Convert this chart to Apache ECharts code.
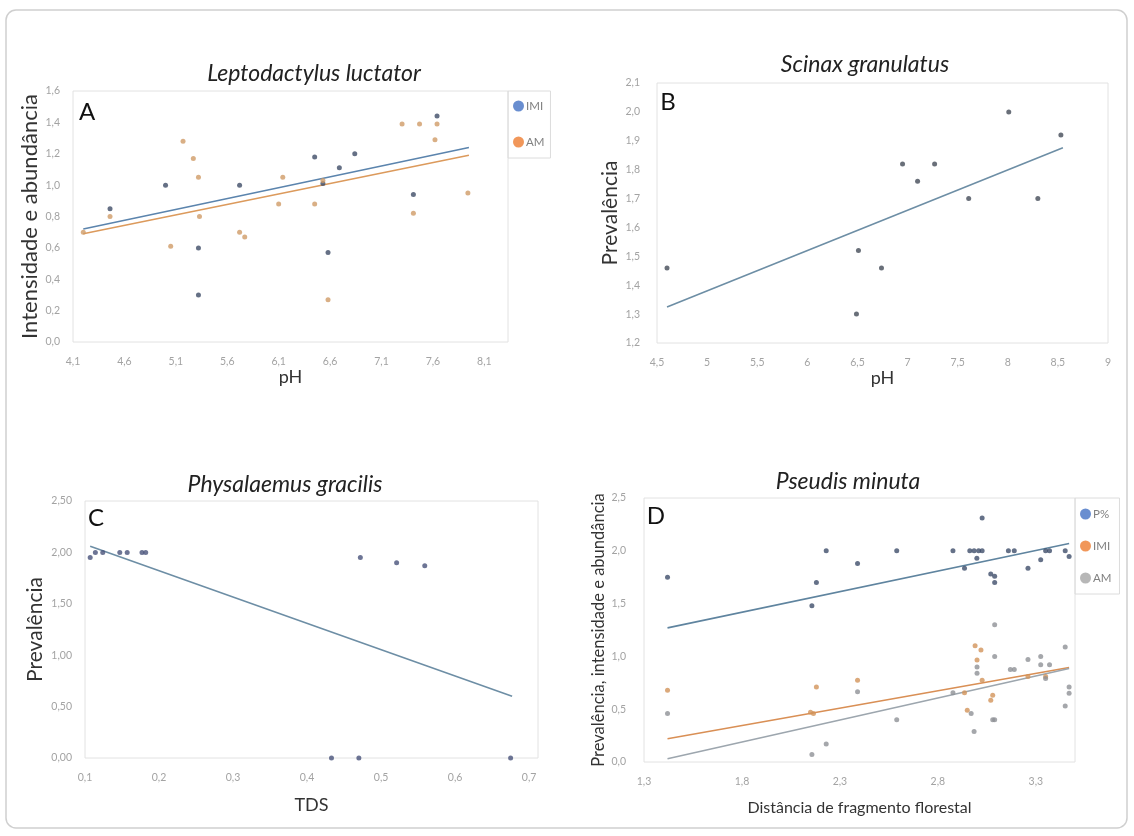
<!DOCTYPE html>
<html>
<head>
<meta charset="utf-8">
<title>Prevalência e pH</title>
<script src="https://cdn.jsdelivr.net/npm/echarts@6/dist/echarts.min.js"></script>
<style>
  html, body { margin: 0; padding: 0; background: #fff; }
  #chart { width: 1134px; height: 836px; }
</style>
</head>
<body>
<div id="chart"></div>
<script>
// A - Leptodactylus luctator (pH)
var phA_imi = [4.46, 5.0, 5.32, 5.32, 5.72, 6.45, 6.53, 6.58, 6.69, 6.84, 7.41, 7.64];
var imiA    = [0.85, 1.0, 0.60, 0.30, 1.0, 1.18, 1.01, 0.57, 1.11, 1.20, 0.94, 1.44];
var phA_am  = [4.2, 4.46, 5.05, 5.17, 5.27, 5.32, 5.33, 5.72, 5.77, 6.10, 6.14, 6.45, 6.53, 6.58, 7.30, 7.41, 7.47, 7.62, 7.64, 7.94];
var amA     = [0.70, 0.80, 0.61, 1.28, 1.17, 1.05, 0.80, 0.70, 0.67, 0.88, 1.05, 0.88, 1.03, 0.27, 1.39, 0.82, 1.39, 1.29, 1.39, 0.95];
var trendA_imi = [[4.2, 0.72], [7.95, 1.24]];
var trendA_am  = [[4.2, 0.69], [7.95, 1.19]];

// B - Scinax granulatus (pH)
var phB   = [4.6, 6.49, 6.51, 6.74, 6.95, 7.1, 7.27, 7.61, 8.01, 8.3, 8.53];
var prevB = [1.46, 1.30, 1.52, 1.46, 1.82, 1.76, 1.82, 1.70, 2.0, 1.70, 1.92];
var trendB = [[4.6, 1.325], [8.55, 1.876]];

// C - Physalaemus gracilis (TDS)
var tdsC  = [0.107, 0.114, 0.124, 0.147, 0.157, 0.177, 0.182, 0.433, 0.47, 0.472, 0.521, 0.559, 0.675];
var prevC = [1.95, 2.0, 2.0, 2.0, 2.0, 2.0, 2.0, 0, 0, 1.95, 1.90, 1.87, 0];
var trendC = [[0.107, 2.06], [0.677, 0.60]];

// D - Pseudis minuta (distancia)
var distD_p = [1.42, 2.157, 2.18, 2.23, 2.39, 2.59, 2.877, 2.936, 2.963, 2.985, 2.999, 3.008, 3.026, 3.026, 3.07, 3.09, 3.09, 3.16, 3.19, 3.26, 3.325, 3.35, 3.37, 3.45, 3.47];
var pD      = [1.75, 1.48, 1.70, 2.0, 1.88, 2.0, 2.0, 1.835, 2.0, 2.0, 1.93, 2.0, 2.0, 2.31, 1.78, 1.76, 1.70, 2.0, 2.0, 1.835, 1.915, 2.0, 2.0, 2.0, 1.945];
var distD_imi = [1.42, 2.15, 2.165, 2.18, 2.39, 2.936, 2.95, 2.99, 3.0, 3.02, 3.026, 3.07, 3.08, 3.26, 3.35];
var imiD      = [0.68, 0.47, 0.46, 0.71, 0.775, 0.655, 0.49, 1.10, 0.965, 1.06, 0.775, 0.585, 0.633, 0.81, 0.81];
var distD_am = [1.42, 2.157, 2.23, 2.39, 2.59, 2.877, 2.97, 2.985, 3.0, 3.0, 3.08, 3.09, 3.09, 3.09, 3.17, 3.19, 3.26, 3.325, 3.325, 3.35, 3.37, 3.45, 3.45, 3.47, 3.47];
var amD      = [0.46, 0.07, 0.17, 0.665, 0.40, 0.655, 0.46, 0.29, 0.90, 0.84, 0.40, 0.40, 1.30, 1.0, 0.877, 0.877, 0.97, 1.0, 0.92, 0.79, 0.92, 1.09, 0.53, 0.71, 0.65];
var trendD_p   = [[1.42, 1.27], [3.47, 2.07]];
var trendD_imi = [[1.42, 0.22], [3.47, 0.895]];
var trendD_am  = [[1.42, 0.03], [3.47, 0.886]];

var FONT = 'Lato, "Open Sans", sans-serif';
var BLUE = '#4472C4', ORANGE = '#ED7D31', GRAY = '#A5A5A5';

function pairs(xs, ys) {
    return xs.map(function (x, i) { return [x, ys[i]]; });
}
function fmt(d) {
    return function (v) { return v.toFixed(d).replace('.', ','); };
}
function fmtShort(v) {
    return String(Math.round(v * 10) / 10).replace('.', ',');
}

function xAx(idx, min, max, step, formatter, showMax, name, gap, nameSize) {
    return {
        type: 'value', gridIndex: idx, min: min, max: max, interval: step,
        axisLine: { show: false }, axisTick: { show: false }, splitLine: { show: false },
        axisLabel: { color: '#a3a3a3', fontSize: 10.5, fontFamily: FONT, margin: 14,
                     formatter: formatter, showMaxLabel: showMax },
        name: name, nameLocation: 'middle', nameGap: gap,
        nameTextStyle: { color: '#333', fontSize: nameSize, fontFamily: FONT }
    };
}
function yAx(idx, min, max, step, formatter, name, gap, nameSize, margin) {
    return {
        type: 'value', gridIndex: idx, min: min, max: max, interval: step,
        axisLine: { show: false }, axisTick: { show: false }, splitLine: { show: false },
        axisLabel: { color: '#a3a3a3', fontSize: 10.5, fontFamily: FONT, margin: margin, formatter: formatter },
        name: name, nameLocation: 'middle', nameGap: gap,
        nameTextStyle: { color: '#333', fontSize: nameSize, fontFamily: FONT }
    };
}
function dots(name, idx, data, color) {
    return {
        name: name, type: 'scatter', xAxisIndex: idx, yAxisIndex: idx,
        data: data, symbolSize: 5, itemStyle: { color: color }, z: 3
    };
}
function trend(idx, data, color) {
    return {
        type: 'line', xAxisIndex: idx, yAxisIndex: idx, data: data,
        symbol: 'none', silent: true, lineStyle: { color: color, width: 1.6 }, z: 2
    };
}
function letter(t, x, y) {
    return { type: 'text', x: x, y: y,
             style: { text: t, font: '24px ' + FONT, fill: '#111', align: 'center', verticalAlign: 'middle' } };
}

var chart = echarts.init(document.getElementById('chart'));
var option = {
    animation: false,
    title: [
        { text: 'Leptodactylus luctator', left: 314, top: 74, textAlign: 'center', textVerticalAlign: 'middle' },
        { text: 'Scinax granulatus', left: 865, top: 65, textAlign: 'center', textVerticalAlign: 'middle' },
        { text: 'Physalaemus gracilis', left: 285, top: 485, textAlign: 'center', textVerticalAlign: 'middle' },
        { text: 'Pseudis minuta', left: 848, top: 482, textAlign: 'center', textVerticalAlign: 'middle' }
    ].map(function (t) {
        t.padding = 0;
        t.textStyle = { fontSize: 23, fontStyle: 'italic', fontWeight: 'normal', color: '#222', fontFamily: FONT };
        return t;
    }),
    legend: [
        { orient: 'vertical', left: 508, top: 91, padding: [9, 6, 10, 5], itemGap: 24,
          itemWidth: 11, itemHeight: 11, icon: 'circle', borderColor: '#dcdcdc', borderWidth: 1,
          textStyle: { color: '#808080', fontSize: 11.5, fontFamily: FONT, padding: [0, 0, 0, -3] },
          data: [{ name: 'IMI', itemStyle: { color: BLUE } }, { name: 'AM', itemStyle: { color: ORANGE } }] },
        { orient: 'vertical', left: 1075, top: 498, padding: [10, 8, 10, 5], itemGap: 20,
          itemWidth: 11, itemHeight: 11, icon: 'circle', borderColor: '#dcdcdc', borderWidth: 1,
          textStyle: { color: '#808080', fontSize: 11.5, fontFamily: FONT, padding: [0, 0, 0, -3] },
          formatter: function (n) { return n.replace(' (D)', ''); },
          data: [{ name: 'P%', itemStyle: { color: BLUE } },
                 { name: 'IMI (D)', itemStyle: { color: ORANGE } },
                 { name: 'AM (D)', itemStyle: { color: GRAY } }] }
    ],
    grid: [
        { left: 73, top: 91, width: 435, height: 251, show: true, borderColor: '#e2e2e2', borderWidth: 1 },
        { left: 657, top: 83, width: 451, height: 260, show: true, borderColor: '#e2e2e2', borderWidth: 1 },
        { left: 85, top: 501, width: 453, height: 257, show: true, borderColor: '#e2e2e2', borderWidth: 1 },
        { left: 644, top: 498, width: 431, height: 264, show: true, borderColor: '#e2e2e2', borderWidth: 1 }
    ],
    xAxis: [
        xAx(0, 4.1, 8.33, 0.5, fmt(1), false, 'pH', 26, 18),
        xAx(1, 4.5, 9, 0.5, fmtShort, true, 'pH', 26, 18),
        xAx(2, 0.1, 0.712, 0.1, fmt(1), false, 'TDS', 38, 18),
        xAx(3, 1.3, 3.5, 0.5, fmt(1), false, 'Distância de fragmento florestal', 38, 16)
    ],
    yAxis: [
        yAx(0, 0, 1.6, 0.2, fmt(1), 'Intensidade e abundância', 32, 22, 13),
        yAx(1, 1.2, 2.1, 0.1, fmt(1), 'Prevalência', 36, 21, 17),
        yAx(2, 0, 2.5, 0.5, fmt(2), 'Prevalência', 39, 21, 13),
        yAx(3, 0, 2.5, 0.5, fmt(1), 'Prevalência, intensidade e abundância', 35, 16.5, 18)
    ],
    series: [
        trend(0, trendA_imi, '#5b84ad'),
        trend(0, trendA_am, '#dc9a5c'),
        dots('IMI', 0, pairs(phA_imi, imiA), '#3e4c66'),
        dots('AM', 0, pairs(phA_am, amA), '#cf9b66'),

        trend(1, trendB, '#6d8ea5'),
        dots('Prevalência B', 1, pairs(phB, prevB), '#444b58'),

        trend(2, trendC, '#6d8ea5'),
        dots('Prevalência C', 2, pairs(tdsC, prevC), '#48527a'),

        trend(3, trendD_p, '#5f849f'),
        trend(3, trendD_imi, '#d98f55'),
        trend(3, trendD_am, '#9da6ae'),
        dots('P%', 3, pairs(distD_p, pD), '#3f4d6a'),
        dots('IMI (D)', 3, pairs(distD_imi, imiD), '#d2935a'),
        dots('AM (D)', 3, pairs(distD_am, amD), '#8e9196')
    ],
    graphic: [
        { type: 'rect', shape: { x: 6, y: 10, width: 1121, height: 818, r: 10 }, silent: true,
          style: { fill: 'none', stroke: '#cfcfcf', lineWidth: 1.5 } },
        letter('A', 87, 112),
        letter('B', 668, 102),
        letter('C', 96, 518),
        letter('D', 656, 516)
    ]
};
chart.setOption(option);
</script>
</body>
</html>
